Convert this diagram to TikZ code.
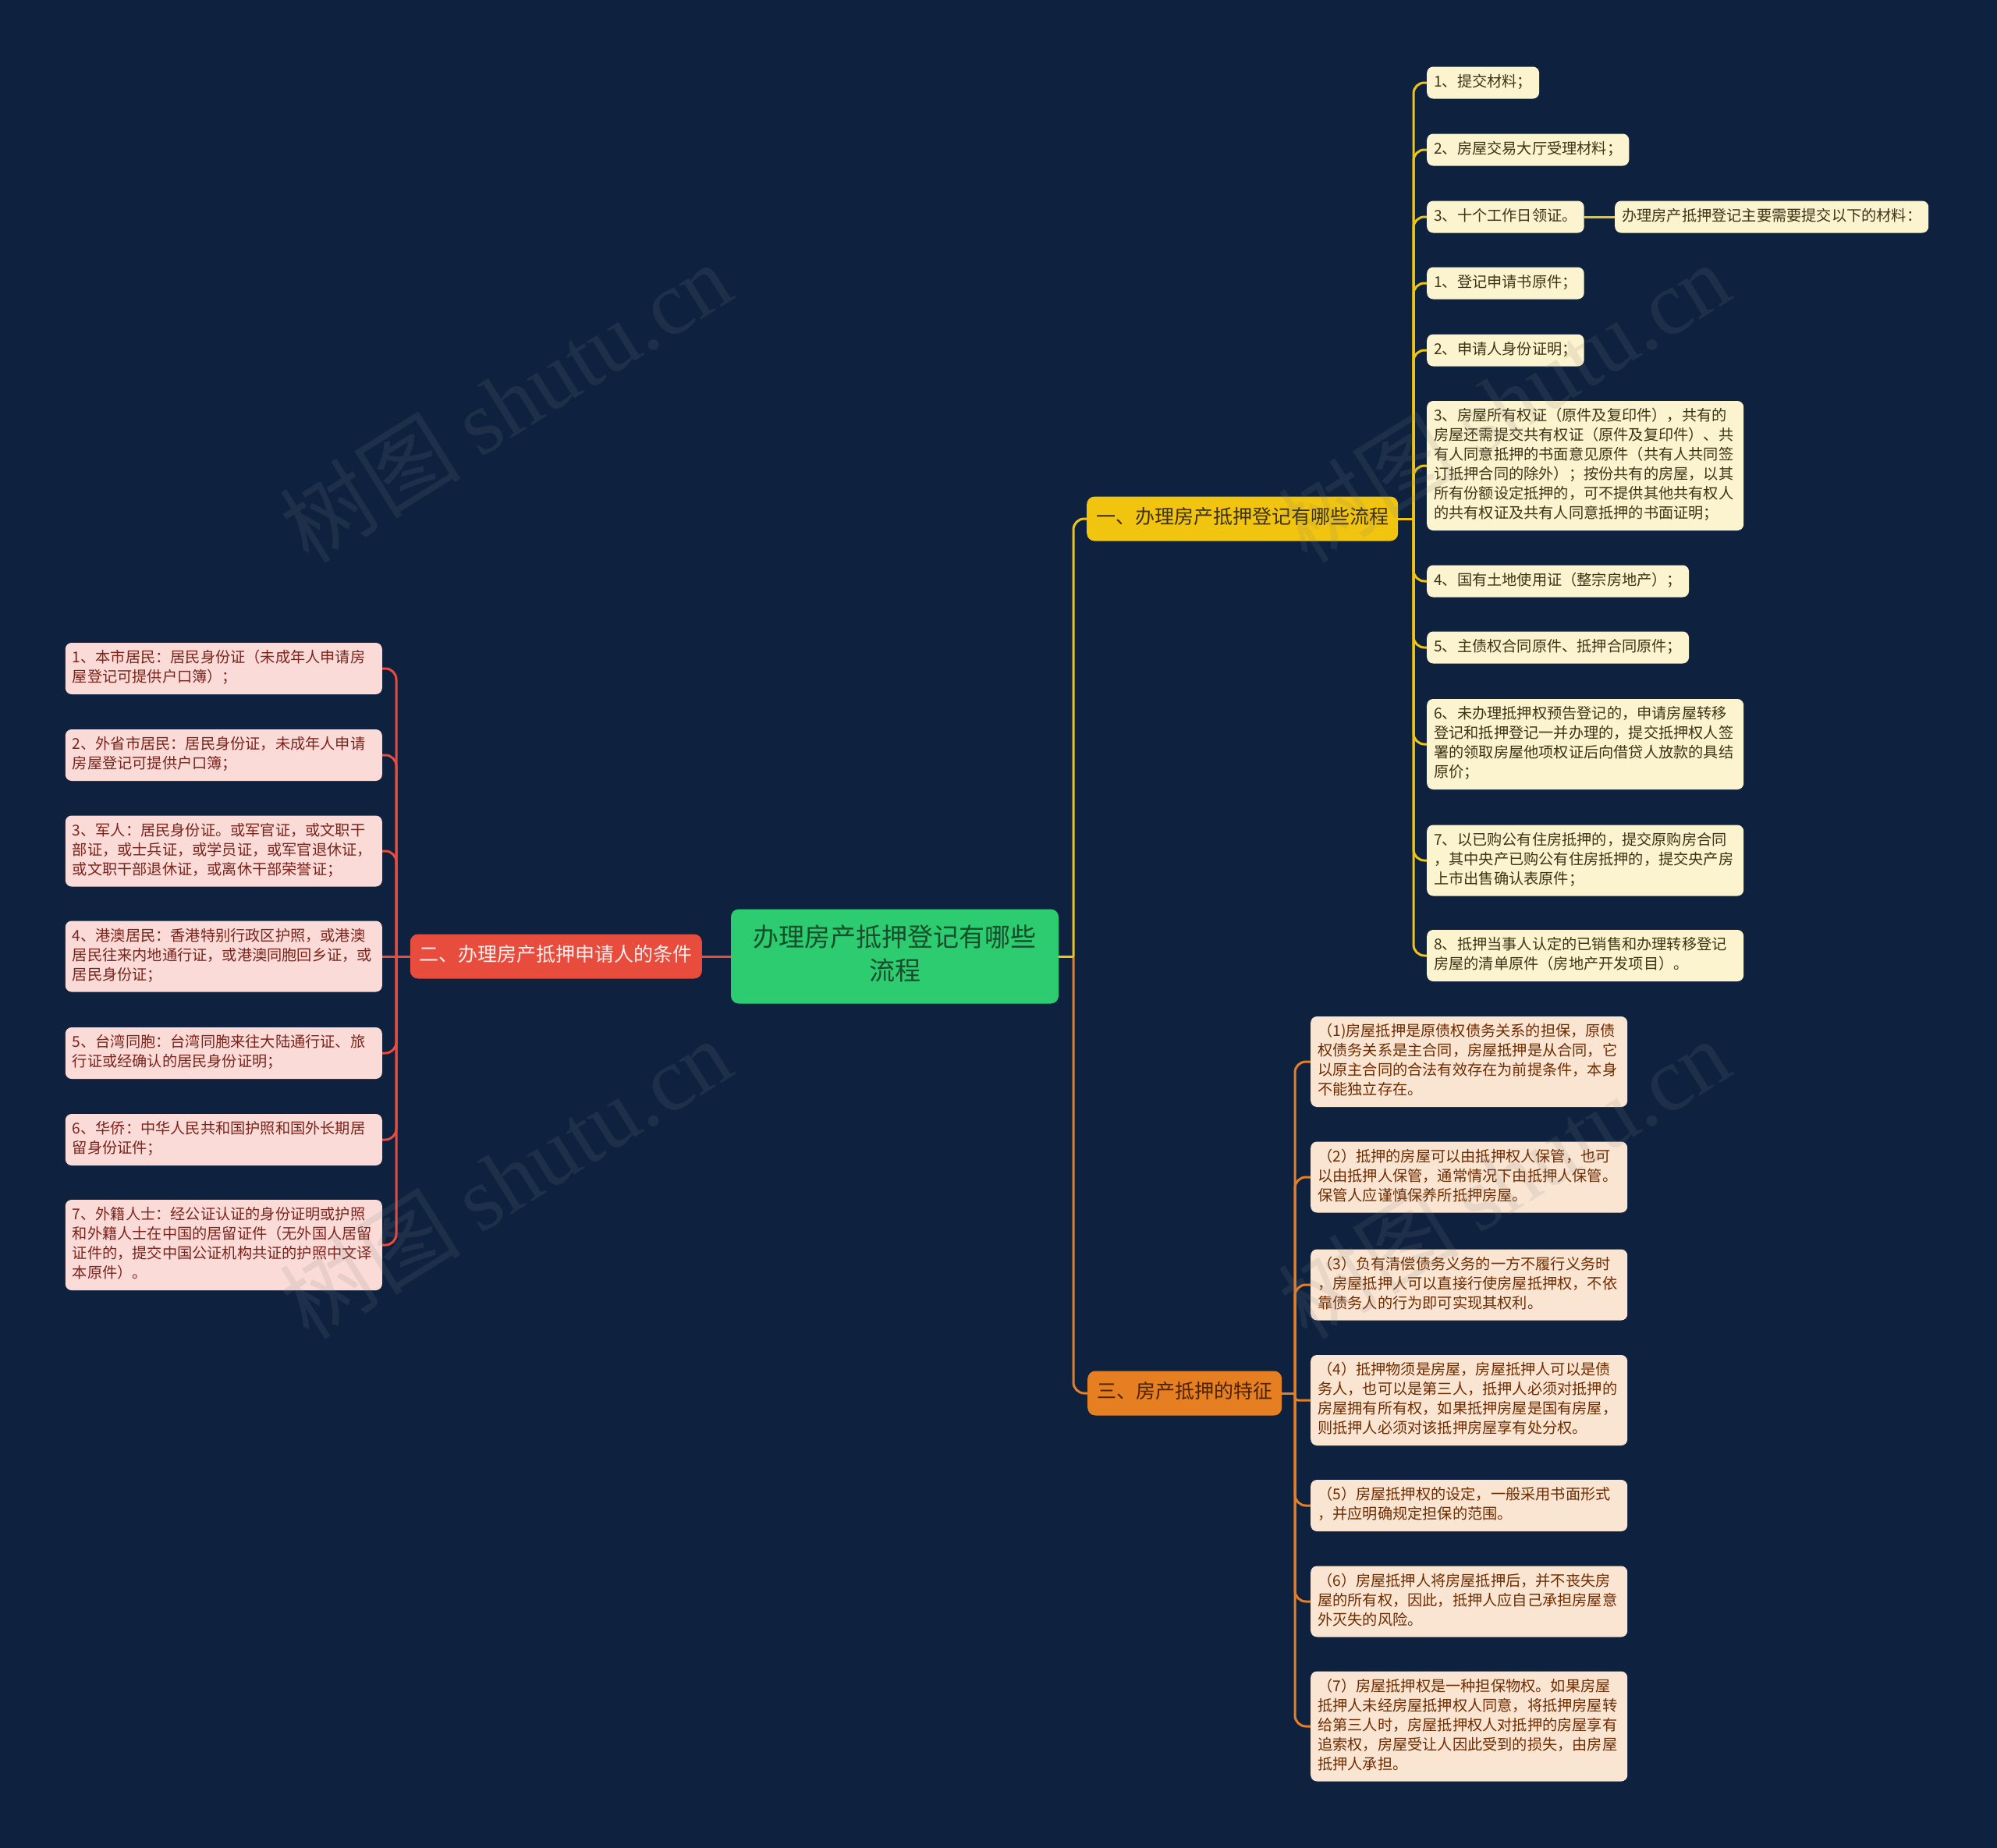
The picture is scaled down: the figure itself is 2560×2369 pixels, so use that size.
\documentclass[tikz,border=0pt]{standalone}
\usepackage{fontspec}
\setmainfont{Noto Sans CJK SC}
\newfontfamily\wmlatin{Liberation Serif}

% colours of the map
\definecolor{bgnavy}{HTML}{0E2240}
\definecolor{rootgreen}{HTML}{2ECC71}
\definecolor{roottext}{HTML}{174D2A}
\definecolor{ylw}{HTML}{F1C40F}
\definecolor{ylwfill}{HTML}{FCF3CF}
\definecolor{ylwdark}{HTML}{3B3110}
\definecolor{ylwtext}{HTML}{3B3416}
\definecolor{redc}{HTML}{E74C3C}
\definecolor{redfill}{HTML}{FADBD8}
\definecolor{redtext}{HTML}{7B241C}
\definecolor{redlight}{HTML}{FDEDEC}
\definecolor{org}{HTML}{E67E22}
\definecolor{orgfill}{HTML}{FAE5D3}
\definecolor{orgtext}{HTML}{6E2C00}
\definecolor{orgdark}{HTML}{4A2300}

\tikzset{
  leaf/.style={rounded corners=8pt, inner xsep=9pt, inner ysep=8pt,
    font=\fontsize{19.2}{25}\selectfont,
    execute at begin node=\strut, execute at end node=\strut},
  wide/.style={text width=388pt, align=left},
  ylwleaf/.style={leaf, fill=ylwfill, text=ylwtext},
  redleaf/.style={leaf, wide, fill=redfill, text=redtext},
  orgleaf/.style={leaf, wide, fill=orgfill, text=orgtext},
  branch/.style={rounded corners=10pt, inner xsep=12pt, inner ysep=12.5pt,
    font=\fontsize{25}{32}\selectfont,
    execute at begin node=\strut, execute at end node=\strut},
  root/.style={rounded corners=10pt, fill=rootgreen, text=roottext,
    inner xsep=20pt, inner ysep=17.5pt, text width=380pt, align=center,
    font=\fontsize{33}{43}\selectfont,
    execute at begin node=\strut, execute at end node=\strut},
  ylwline/.style={draw=ylw, line width=3pt},
  redline/.style={draw=redc, line width=3pt},
  orgline/.style={draw=org, line width=3pt},
  watermark/.style={rotate=32, text=gray, opacity=0.14,
    font=\fontsize{116}{116}\selectfont}
}

\begin{document}
\begin{tikzpicture}[x=1pt, y=-1pt]

% page and background
\useasboundingbox (0,0) rectangle (2560,2369);
\fill[bgnavy] (0,0) rectangle (2560,2369);

% centre topic
\node[root] (root) at (1147,1226) {办理房产抵押登记有哪些\\流程};

% the three main branches
\node[branch, fill=ylw, text=ylwdark, anchor=west] (b1) at (1393,665) {一、办理房产抵押登记有哪些流程};
\node[branch, fill=redc, text=redlight, anchor=east] (b2) at (900,1226) {二、办理房产抵押申请人的条件};
\node[branch, fill=org, text=orgdark, anchor=west] (b3) at (1394,1786) {三、房产抵押的特征};

% spine points where the connectors fork
\coordinate (rootr) at (1376,1226);
\coordinate (b1sp) at (1812,665);
\coordinate (b2sp) at (508,1226);
\coordinate (b3sp) at (1660,1786);

% branch one: the procedure
\node[ylwleaf, anchor=west] (y1) at (1829,106) {1、提交材料；};
\node[ylwleaf, anchor=west] (y2) at (1829,192) {2、房屋交易大厅受理材料；};
\node[ylwleaf, anchor=west] (y3) at (1829,278) {3、十个工作日领证。};
\node[ylwleaf, anchor=west] (ys) at (2070,278) {办理房产抵押登记主要需要提交以下的材料：};
\node[ylwleaf, anchor=west] (y4) at (1829,363) {1、登记申请书原件；};
\node[ylwleaf, anchor=west] (y5) at (1829,449) {2、申请人身份证明；};
\node[ylwleaf, wide, anchor=west] (y6) at (1829,597) {3、房屋所有权证（原件及复印件），共有的\\房屋还需提交共有权证（原件及复印件）、共\\有人同意抵押的书面意见原件（共有人共同签\\订抵押合同的除外）；按份共有的房屋，以其\\所有份额设定抵押的，可不提供其他共有权人\\的共有权证及共有人同意抵押的书面证明；};
\node[ylwleaf, anchor=west] (y7) at (1829,745) {4、国有土地使用证（整宗房地产）；};
\node[ylwleaf, anchor=west] (y8) at (1829,830) {5、主债权合同原件、抵押合同原件；};
\node[ylwleaf, wide, anchor=west] (y9) at (1829,954) {6、未办理抵押权预告登记的，申请房屋转移\\登记和抵押登记一并办理的，提交抵押权人签\\署的领取房屋他项权证后向借贷人放款的具结\\原价；};
\node[ylwleaf, wide, anchor=west] (y10) at (1829,1103) {7、以已购公有住房抵押的，提交原购房合同\\，其中央产已购公有住房抵押的，提交央产房\\上市出售确认表原件；};
\node[ylwleaf, wide, anchor=west] (y11) at (1829,1225) {8、抵押当事人认定的已销售和办理转移登记\\房屋的清单原件（房地产开发项目）。};

% branch two: the applicants
\node[redleaf, anchor=east] (r1) at (490,857) {1、本市居民：居民身份证（未成年人申请房\\屋登记可提供户口簿）；};
\node[redleaf, anchor=east] (r2) at (490,968) {2、外省市居民：居民身份证，未成年人申请\\房屋登记可提供户口簿；};
\node[redleaf, anchor=east] (r3) at (490,1091) {3、军人：居民身份证。或军官证，或文职干\\部证，或士兵证，或学员证，或军官退休证，\\或文职干部退休证，或离休干部荣誉证；};
\node[redleaf, anchor=east] (r4) at (490,1226) {4、港澳居民：香港特别行政区护照，或港澳\\居民往来内地通行证，或港澳同胞回乡证，或\\居民身份证；};
\node[redleaf, anchor=east] (r5) at (490,1350) {5、台湾同胞：台湾同胞来往大陆通行证、旅\\行证或经确认的居民身份证明；};
\node[redleaf, anchor=east] (r6) at (490,1461) {6、华侨：中华人民共和国护照和国外长期居\\留身份证件；};
\node[redleaf, anchor=east] (r7) at (490,1596) {7、外籍人士：经公证认证的身份证明或护照\\和外籍人士在中国的居留证件（无外国人居留\\证件的，提交中国公证机构共证的护照中文译\\本原件）。};

% branch three: the features
\node[orgleaf, anchor=west] (o1) at (1680,1361) {（1)房屋抵押是原债权债务关系的担保，原债\\权债务关系是主合同，房屋抵押是从合同，它\\以原主合同的合法有效存在为前提条件，本身\\不能独立存在。};
\node[orgleaf, anchor=west] (o2) at (1680,1509) {（2）抵押的房屋可以由抵押权人保管，也可\\以由抵押人保管，通常情况下由抵押人保管。\\保管人应谨慎保养所抵押房屋。};
\node[orgleaf, anchor=west] (o3) at (1680,1647) {（3）负有清偿债务义务的一方不履行义务时\\，房屋抵押人可以直接行使房屋抵押权，不依\\靠债务人的行为即可实现其权利。};
\node[orgleaf, anchor=west] (o4) at (1680,1795) {（4）抵押物须是房屋，房屋抵押人可以是债\\务人，也可以是第三人，抵押人必须对抵押的\\房屋拥有所有权，如果抵押房屋是国有房屋，\\则抵押人必须对该抵押房屋享有处分权。};
\node[orgleaf, anchor=west] (o5) at (1680,1930) {（5）房屋抵押权的设定，一般采用书面形式\\，并应明确规定担保的范围。};
\node[orgleaf, anchor=west] (o6) at (1680,2053) {（6）房屋抵押人将房屋抵押后，并不丧失房\\屋的所有权，因此，抵押人应自己承担房屋意\\外灭失的风险。};
\node[orgleaf, anchor=west] (o7) at (1680,2213) {（7）房屋抵押权是一种担保物权。如果房屋\\抵押人未经房屋抵押权人同意，将抵押房屋转\\给第三人时，房屋抵押权人对抵押的房屋享有\\追索权，房屋受让人因此受到的损失，由房屋\\抵押人承担。};

% connectors from the centre
\draw[redline] (root.west) -- (b2.east);
\draw[orgline] (root.east) -- (rootr);
\draw[orgline, rounded corners=14pt] (rootr) |- (b3.west);
\draw[ylwline] (root.east) -- (rootr);
\draw[ylwline, rounded corners=14pt] (rootr) |- (b1.west);

% connectors of branch one
\draw[ylwline] (b1.east) -- (b1sp);
\foreach \n in {y1,y2,y3,y4,y5,y6,y7,y8,y9,y10,y11}
  \draw[ylwline, rounded corners=14pt] (b1sp) |- (\n.west);
\draw[ylwline] (y3.east) -- (ys.west);

% connectors of branch two
\draw[redline] (b2.west) -- (b2sp);
\foreach \n in {r1,r2,r3,r5,r6,r7}
  \draw[redline, rounded corners=14pt] (b2sp) |- (\n.east);
\draw[redline] (b2sp) -- (r4.east);

% connectors of branch three
\draw[orgline] (b3.east) -- (b3sp);
\foreach \n in {o1,o2,o3,o5,o6,o7}
  \draw[orgline, rounded corners=14pt] (b3sp) |- (\n.west);
\draw[orgline, rounded corners=4pt] (b3sp) |- (o4.west);

% faint watermark
\foreach \wx/\wy [count=\i] in {648/515, 648/1510, 1928/515, 1928/1510}
  \node[watermark] (wm\i) at (\wx,\wy) {树图 {\wmlatin shutu.cn}};

\end{tikzpicture}
\end{document}
